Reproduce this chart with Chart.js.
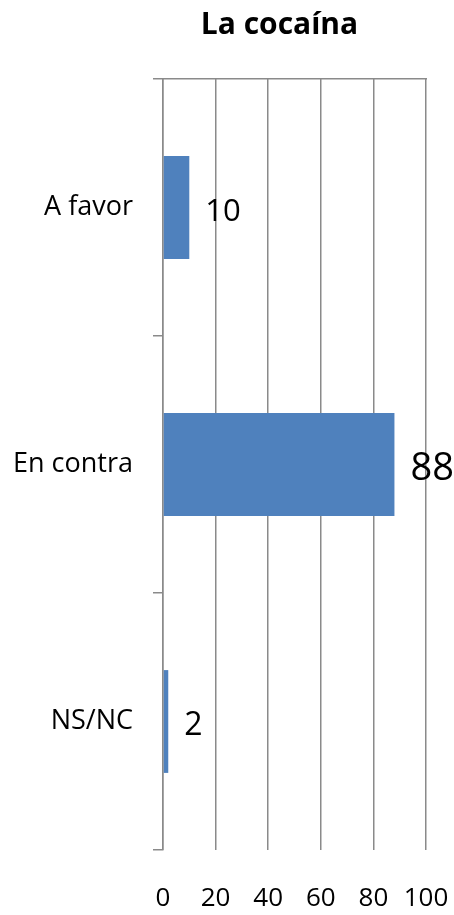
<!DOCTYPE html>
<html lang="es">
<head>
    <meta charset="UTF-8">
    <title>La cocaína</title>
    <script src="https://cdn.jsdelivr.net/npm/chart.js"></script>
    <style>
        html, body { margin: 0; padding: 0; background: #fff; }
        #wrap { width: 454px; height: 915px; }
    </style>
</head>
<body>
    <div id="wrap"><canvas id="myChart"></canvas></div>
    <script>
        const categories = ['A favor', 'En contra', 'NS/NC'];
        const values = [10, 88, 2];
        const xTicks = [0, 20, 40, 60, 80, 100];

        const gridColor = '#8a8a8a';
        const fontFamily = '"Open Sans", sans-serif';

        // value labels to the right of each bar (Excel made the 88 a bit bigger)
        const valueLabels = {
            id: 'valueLabels',
            afterDatasetsDraw(chart, args, opts) {
                const ctx = chart.ctx;
                const meta = chart.getDatasetMeta(0);
                ctx.save();
                ctx.fillStyle = '#000';
                ctx.textAlign = 'left';
                ctx.textBaseline = 'alphabetic';
                meta.data.forEach((bar, i) => {
                    const size = opts.sizes[i];
                    ctx.font = size + 'px ' + fontFamily;
                    ctx.fillText(String(values[i]), bar.x + opts.gap, bar.y + 2 + size * 0.357);
                });
                ctx.restore();
            }
        };

        // Excel centres the title between the category labels and the plot's right edge
        const shiftTitle = {
            id: 'shiftTitle',
            afterLayout(chart) {
                const t = chart.titleBlock;
                const y = chart.scales.y;
                if (!t) return;
                t.left = y.right - y.options.grid.tickLength - y.options.ticks.padding;
                t.right = chart.chartArea.right;
                t.width = t.right - t.left;
            }
        };

        new Chart(document.getElementById('myChart'), {
            type: 'bar',
            data: {
                labels: categories,
                datasets: [{
                    data: values,
                    backgroundColor: '#4f81bd',
                    categoryPercentage: 1,
                    barPercentage: 0.4
                }]
            },
            plugins: [valueLabels, shiftTitle],
            options: {
                indexAxis: 'y',
                responsive: true,
                maintainAspectRatio: false,
                animation: false,
                layout: {
                    padding: { left: 0, right: 28, top: 0, bottom: 0 }
                },
                plugins: {
                    legend: { display: false },
                    tooltip: { enabled: false },
                    title: {
                        display: true,
                        text: 'La cocaína',
                        color: '#000',
                        font: { family: fontFamily, size: 30, weight: 'bold', lineHeight: 1.2 },
                        padding: { top: 7, bottom: 36 }
                    },
                    valueLabels: { gap: 16, sizes: [31, 38, 32] }
                },
                scales: {
                    x: {
                        position: 'bottom',
                        min: 0,
                        max: 100,
                        afterBuildTicks: (scale) => { scale.ticks = xTicks.map(v => ({ value: v })); },
                        afterFit: (scale) => {
                            scale.height = 65;
                            scale.paddingLeft = 0;
                            scale.paddingRight = 0;
                        },
                        border: { display: false },
                        grid: { color: gridColor, lineWidth: 1.5, drawTicks: false },
                        ticks: {
                            color: '#000',
                            padding: 33,
                            maxRotation: 0,
                            font: { family: fontFamily, size: 26 }
                        }
                    },
                    xTop: {
                        axis: 'x',
                        position: 'top',
                        min: 0,
                        max: 100,
                        afterFit: (scale) => { scale.height = 0; },
                        border: { display: true, color: gridColor, width: 1.5 },
                        grid: { display: false },
                        ticks: { display: false }
                    },
                    y: {
                        afterFit: (scale) => { scale.width = 163; },
                        border: { display: true, color: gridColor, width: 1.5 },
                        grid: {
                            offset: true,
                            drawOnChartArea: false,
                            drawTicks: true,
                            tickLength: 10,
                            color: gridColor,
                            lineWidth: 1.5
                        },
                        ticks: {
                            color: '#000',
                            padding: 20,
                            font: { family: fontFamily, size: 27 }
                        }
                    }
                }
            }
        });
    </script>
</body>
</html>
